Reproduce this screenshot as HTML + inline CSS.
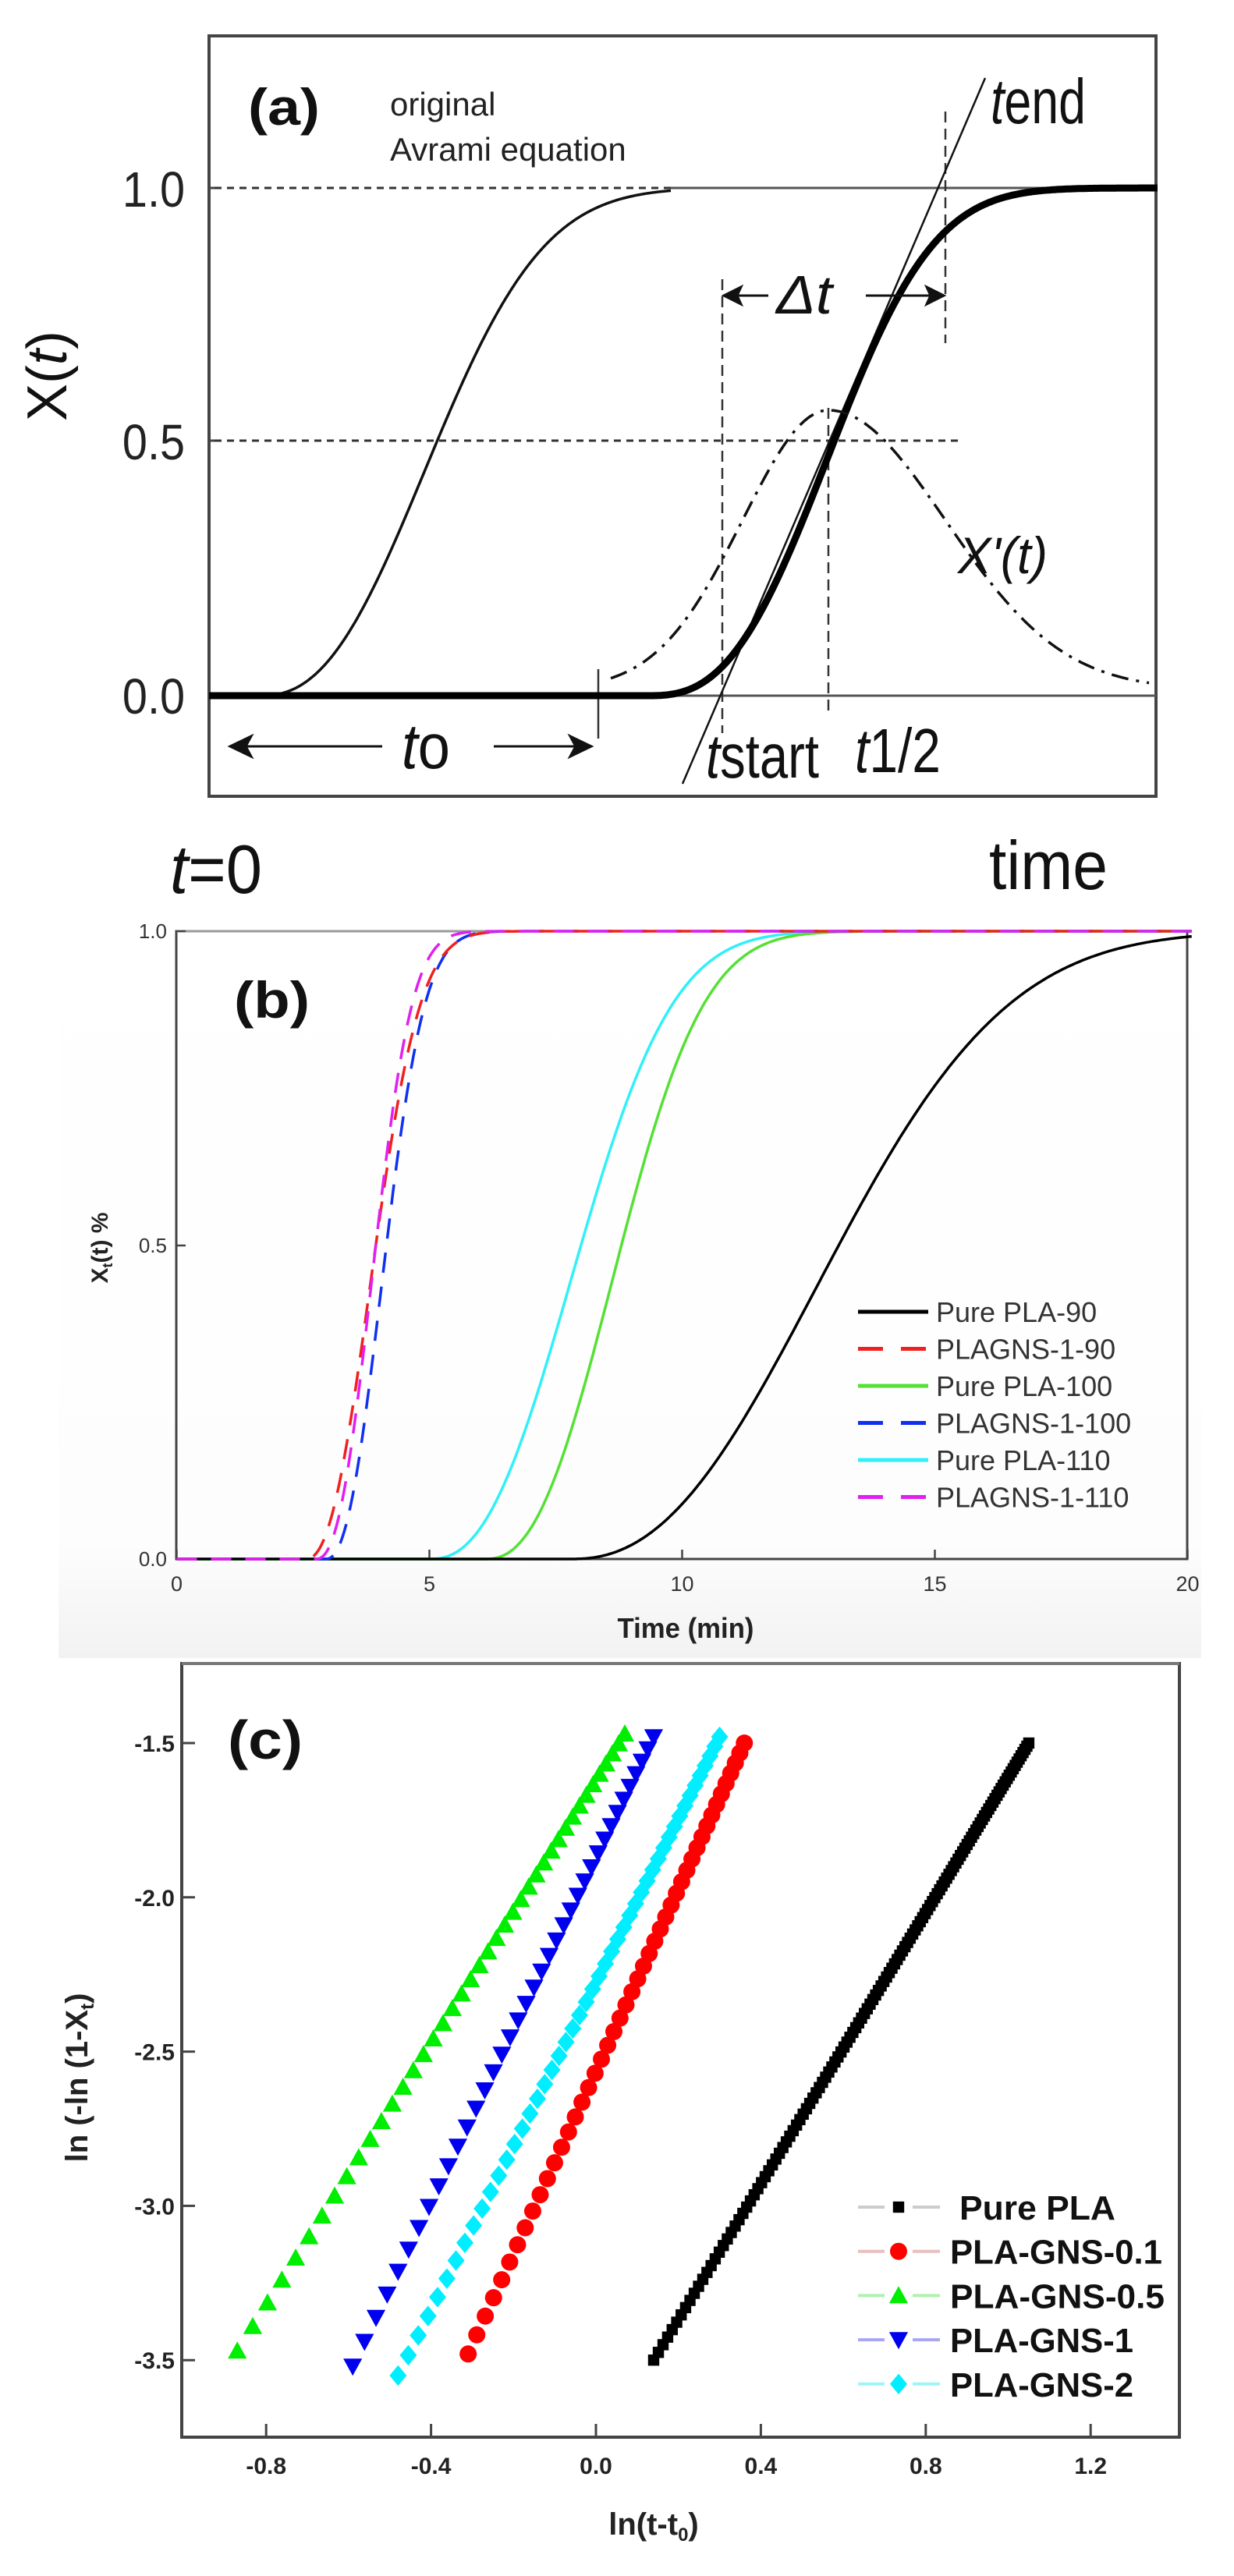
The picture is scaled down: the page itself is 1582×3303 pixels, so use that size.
<!DOCTYPE html>
<html><head><meta charset="utf-8"><style>
html,body{margin:0;padding:0;background:#fff;}
svg{display:block;}
text{font-family:"Liberation Sans",Arial,sans-serif;}
</style></head><body>
<svg id="s" width="1582" height="3303" viewBox="0 0 1582 3303" xmlns="http://www.w3.org/2000/svg">
<defs>
<linearGradient id="g" x1="0" y1="0" x2="0" y2="1">
<stop offset="0" stop-color="#fff"/><stop offset="0.85" stop-color="#fdfdfd"/><stop offset="1" stop-color="#f2f2f2"/>
</linearGradient>
</defs>
<rect x="75" y="1150" width="1465" height="976" fill="url(#g)"/>

<!-- ===== Panel (a) ===== -->
<rect x="268" y="46" width="1214" height="975" fill="none" stroke="#444" stroke-width="4"/>
<g font-size="64" fill="#222">
<text x="237" y="265" text-anchor="end" transform="translate(237,0) scale(0.9,1) translate(-237,0)">1.0</text>
<text x="237" y="589" text-anchor="end" transform="translate(237,0) scale(0.9,1) translate(-237,0)">0.5</text>
<text x="237" y="915" text-anchor="end" transform="translate(237,0) scale(0.9,1) translate(-237,0)">0.0</text>
</g>
<line x1="268" y1="241" x2="282" y2="241" stroke="#444" stroke-width="3"/>
<line x1="268" y1="565" x2="282" y2="565" stroke="#444" stroke-width="3"/>
<text transform="translate(85,482) rotate(-90)" font-size="72" text-anchor="middle" fill="#111">X(<tspan font-style="italic">t</tspan>)</text>
<text x="318" y="160" font-size="66" font-weight="bold" fill="#111" textLength="92">(a)</text>
<text x="500" y="148" font-size="42" fill="#222">original</text>
<text x="500" y="206" font-size="42" fill="#222">Avrami equation</text>
<!-- dashed guide lines -->
<line x1="275" y1="241" x2="860" y2="241" stroke="#333" stroke-width="3" stroke-dasharray="9 7"/>
<line x1="860" y1="241" x2="1482" y2="241" stroke="#555" stroke-width="3"/>
<line x1="275" y1="565" x2="1235" y2="565" stroke="#333" stroke-width="3" stroke-dasharray="9 7"/>
<line x1="268" y1="892" x2="1482" y2="892" stroke="#555" stroke-width="3"/>
<line x1="926" y1="358" x2="926" y2="940" stroke="#333" stroke-width="2.5" stroke-dasharray="14 8"/>
<line x1="1212" y1="143" x2="1212" y2="440" stroke="#333" stroke-width="2.5" stroke-dasharray="14 8"/>
<line x1="1062" y1="523" x2="1062" y2="915" stroke="#333" stroke-width="2.5" stroke-dasharray="14 8"/>
<line x1="767" y1="858" x2="767" y2="947" stroke="#333" stroke-width="2.5"/>
<!-- tangent -->
<line x1="875" y1="1005" x2="1263" y2="100" stroke="#111" stroke-width="2.5"/>
<path id="thin" fill="none" stroke="#111" stroke-width="3.5"/>
<path id="thick" fill="none" stroke="#000" stroke-width="9"/>
<path id="dd" fill="none" stroke="#111" stroke-width="3.5" stroke-dasharray="22 10 4 10"/>
<!-- arrows -->
<g stroke="#111" stroke-width="3" fill="#111">
<line x1="940" y1="379" x2="985" y2="379"/><path d="M928 379 L950 368 L945 379 L950 390 Z"/>
<line x1="1110" y1="379" x2="1198" y2="379"/><path d="M1210 379 L1188 368 L1193 379 L1188 390 Z"/>
<line x1="310" y1="957" x2="490" y2="957"/><path d="M295 957 L322 944 L315 957 L322 970 Z"/>
<line x1="633" y1="957" x2="740" y2="957"/><path d="M758 957 L731 944 L738 957 L731 970 Z"/>
</g>
<text x="995" y="402" font-size="70" font-style="italic" fill="#111" textLength="72">Δt</text>
<text x="1228" y="735" font-size="66" font-style="italic" fill="#111" textLength="115">X'(t)</text>
<text x="1270" y="158" font-size="82" fill="#111" textLength="122"><tspan font-style="italic">t</tspan>end</text>
<text x="515" y="985" font-size="82" fill="#111" textLength="62"><tspan font-style="italic">t</tspan>o</text>
<text x="905" y="997" font-size="80" fill="#111" textLength="145"><tspan font-style="italic">t</tspan>start</text>
<text x="1096" y="990" font-size="80" fill="#111" textLength="110"><tspan font-style="italic">t</tspan>1/2</text>
<text x="218" y="1145" font-size="88" fill="#111" textLength="118"><tspan font-style="italic">t</tspan>=0</text>
<text x="1268" y="1140" font-size="88" fill="#111" textLength="152">time</text>

<!-- ===== Panel (b) ===== -->
<rect x="226" y="1194" width="1296" height="805" fill="none" stroke="#444" stroke-width="3"/>
<line x1="226" y1="1194" x2="1522" y2="1194" stroke="#999" stroke-width="3"/>
<g id="bticks" stroke="#444" stroke-width="2.5"></g>
<g font-size="26" fill="#333" text-anchor="end">
<text x="214" y="1203">1.0</text><text x="214" y="1606">0.5</text><text x="214" y="2008">0.0</text>
</g>
<g font-size="27" fill="#333" text-anchor="middle" id="bxl"></g>
<text x="879" y="2100" font-size="36" font-weight="bold" fill="#222" text-anchor="middle" textLength="175">Time (min)</text>
<text transform="translate(138,1600) rotate(-90)" font-size="30" font-weight="bold" fill="#222" text-anchor="middle">X<tspan font-size="18" dy="6">t</tspan><tspan dy="-6">(t) %</tspan></text>
<text x="300" y="1305" font-size="66" font-weight="bold" fill="#111" textLength="97">(b)</text>
<g id="bcurves"></g>
<g id="bleg"></g>

<!-- ===== Panel (c) ===== -->
<rect x="233" y="2133" width="1279" height="992" fill="none" stroke="#444" stroke-width="4"/>
<line x1="233" y1="2133" x2="1512" y2="2133" stroke="#777" stroke-width="4"/>
<g id="cticks" stroke="#444" stroke-width="3"></g>
<g id="clab" font-size="30" font-weight="bold" fill="#222"></g>
<text transform="translate(112,2664) rotate(-90)" font-size="40" font-weight="bold" fill="#222" text-anchor="middle">ln (-ln (1-X<tspan font-size="24" dy="8">t</tspan><tspan dy="-8">)</tspan></text>
<text x="838" y="3250" font-size="40" fill="#222" text-anchor="middle" font-weight="bold">ln(t-t<tspan font-size="24" dy="8">0</tspan><tspan dy="-8">)</tspan></text>
<text x="292" y="2255" font-size="70" font-weight="bold" fill="#111" textLength="96">(c)</text>
<g id="cpts"></g>
<g id="cleg"></g>
</svg>
<script>
var NS="http://www.w3.org/2000/svg";
function el(t,a,p){var e=document.createElementNS(NS,t);for(var k in a)e.setAttribute(k,a[k]);if(p)p.appendChild(e);return e;}
function $(i){return document.getElementById(i);}
function avr(x,x0,xh,n){if(x<=x0)return 0;return 1-Math.exp(-Math.LN2*Math.pow((x-x0)/(xh-x0),n));}
function pathA(x0,xh,n,xs,xe){var d="";for(var x=xs;x<=xe;x+=2){var y=892-651*avr(x,x0,xh,n);d+=(d?"L":"M")+x+" "+y.toFixed(1);}return d;}
$("thin").setAttribute("d",pathA(333,560,2.4,270,860));
$("thick").setAttribute("d",pathA(830,1069,2.7,268,1485));
(function(){var d="";for(var x=783;x<=1473;x+=2){var s=x<1062?110:150;var y=884-358*Math.exp(-Math.pow((x-1062)/s,2)/2);d+=(d?"L":"M")+x+" "+y.toFixed(1);}$("dd").setAttribute("d",d);})();
var bx=function(t){return 226.5+64.8*t;}, by=function(v){return 1999-805*v;};
var bt=$("bticks"),bxl=$("bxl");
[0,5,10,15,20].forEach(function(t){el("line",{x1:bx(t),y1:1999,x2:bx(t),y2:1987},bt);var tx=el("text",{x:bx(t),y:2040},bxl);tx.textContent=t;});
[1194,1597,1999].forEach(function(y){el("line",{x1:226,y1:y,x2:238,y2:y},bt);});
var S=[
 {c:"#000",t0:7.8,th:13.1,n:2.3,da:null,l:"Pure PLA-90"},
 {c:"#f02020",t0:2.55,th:3.94,n:2.3,da:"26 18",l:"PLAGNS-1-90"},
 {c:"#55e035",t0:6.1,th:8.8,n:2.4,da:null,l:"Pure PLA-100"},
 {c:"#1030f0",t0:2.95,th:4.15,n:2.3,da:"26 18",l:"PLAGNS-1-100"},
 {c:"#30f0f8",t0:5.0,th:8.0,n:2.4,da:null,l:"Pure PLA-110"},
 {c:"#e020f0",t0:2.75,th:3.94,n:2.4,da:"26 18",l:"PLAGNS-1-110"}];
var bc=$("bcurves"),bl=$("bleg");
var order=[4,2,0,3,1,5];
order.forEach(function(i){var s=S[i];var d="";for(var t=0;t<=20.1;t+=0.04){d+=(d?"L":"M")+bx(t).toFixed(1)+" "+by(avr(t,s.t0,s.th,s.n)).toFixed(1);}
 var a={d:d,fill:"none",stroke:s.c,"stroke-width":3.5};if(s.da)a["stroke-dasharray"]=s.da;el("path",a,bc);});
S.forEach(function(s,i){var y=1682+47.5*i;var a={x1:1100,y1:y,x2:1190,y2:y,stroke:s.c,"stroke-width":5};if(s.da)a["stroke-dasharray"]="32 23";el("line",a,bl);
 var t=el("text",{x:1200,y:y+13,"font-size":36,fill:"#333"},bl);t.textContent=s.l;});
var cx=function(x){return 764+528.5*x;}, cy=function(y){return 2235+(-1.5-y)*395.6;};
var ct=$("cticks"),cl=$("clab");
[-0.8,-0.4,0,0.4,0.8,1.2].forEach(function(x){el("line",{x1:cx(x),y1:3125,x2:cx(x),y2:3108},ct);var t=el("text",{x:cx(x),y:3172,"text-anchor":"middle"},cl);t.textContent=x.toFixed(1);});
[-1.5,-2,-2.5,-3,-3.5].forEach(function(y){el("line",{x1:233,y1:cy(y),x2:250,y2:cy(y)},ct);var t=el("text",{x:224,y:cy(y)+11,"text-anchor":"end"},cl);t.textContent=y.toFixed(1);});
function marker(k,x,y,c,g,sz){sz=sz||11;
 if(k=="s")el("rect",{x:x-sz*0.8,y:y-sz*0.8,width:sz*1.6,height:sz*1.6,fill:c},g);
 else if(k=="o")el("circle",{cx:x,cy:y,r:sz,fill:c},g);
 else if(k=="u")el("path",{d:"M"+x+" "+(y-sz*1.1)+"L"+(x+sz*1.1)+" "+(y+sz*0.9)+"L"+(x-sz*1.1)+" "+(y+sz*0.9)+"Z",fill:c},g);
 else if(k=="v")el("path",{d:"M"+x+" "+(y+sz*1.1)+"L"+(x+sz*1.1)+" "+(y-sz*0.9)+"L"+(x-sz*1.1)+" "+(y-sz*0.9)+"Z",fill:c},g);
 else if(k=="d")el("path",{d:"M"+x+" "+(y-sz*1.2)+"L"+(x+sz*1.0)+" "+y+"L"+x+" "+(y+sz*1.2)+"L"+(x-sz*1.0)+" "+y+"Z",fill:c},g);}
var C=[
 {k:"s",c:"#000",x0:0.14,y0:-3.5,x1:1.05,y1:-1.5,n:130,l:"Pure PLA",lc:"#ccc"},
 {k:"o",c:"#f00",x0:-0.31,y0:-3.48,x1:0.36,y1:-1.5,n:46,l:"PLA-GNS-0.1",lc:"#e8c0c0"},
 {k:"u",c:"#00ee00",x0:-0.87,y0:-3.47,x1:0.07,y1:-1.47,n:42,l:"PLA-GNS-0.5",lc:"#b0f0b0"},
 {k:"v",c:"#0000ee",x0:-0.59,y0:-3.52,x1:0.14,y1:-1.48,n:38,l:"PLA-GNS-1",lc:"#a8a8f0"},
 {k:"d",c:"#00eeff",x0:-0.48,y0:-3.55,x1:0.30,y1:-1.48,n:48,l:"PLA-GNS-2",lc:"#a0f4f8"}];
var cp=$("cpts"),cg=$("cleg");
C.forEach(function(s){var e0=Math.exp(s.x0),e1=Math.exp(s.x1);for(var i=0;i<s.n;i++){var e=e0+(e1-e0)*i/(s.n-1);var x=Math.log(e);var y=s.y0+(s.y1-s.y0)*(x-s.x0)/(s.x1-s.x0);marker(s.k,cx(x),cy(y),s.c,cp,s.k=="s"?9:11);}});
C.forEach(function(s,i){var y=2830+56.7*i;el("line",{x1:1100,y1:y,x2:1134,y2:y,stroke:s.lc,"stroke-width":4},cg);el("line",{x1:1170,y1:y,x2:1205,y2:y,stroke:s.lc,"stroke-width":4},cg);
 marker(s.k,1152,y,s.c,cg,s.k=="s"?9:11);var t=el("text",{x:i==0?1230:1218,y:y+16,"font-size":44,"font-weight":"bold",fill:"#111"},cg);t.textContent=s.l;
 var w={0:200,1:272,2:275,3:235,4:235}[i];t.setAttribute("textLength",w);});
document.querySelectorAll('text[textLength]').forEach(function(t){t.setAttribute('lengthAdjust','spacingAndGlyphs');});
</script>
</body></html>
